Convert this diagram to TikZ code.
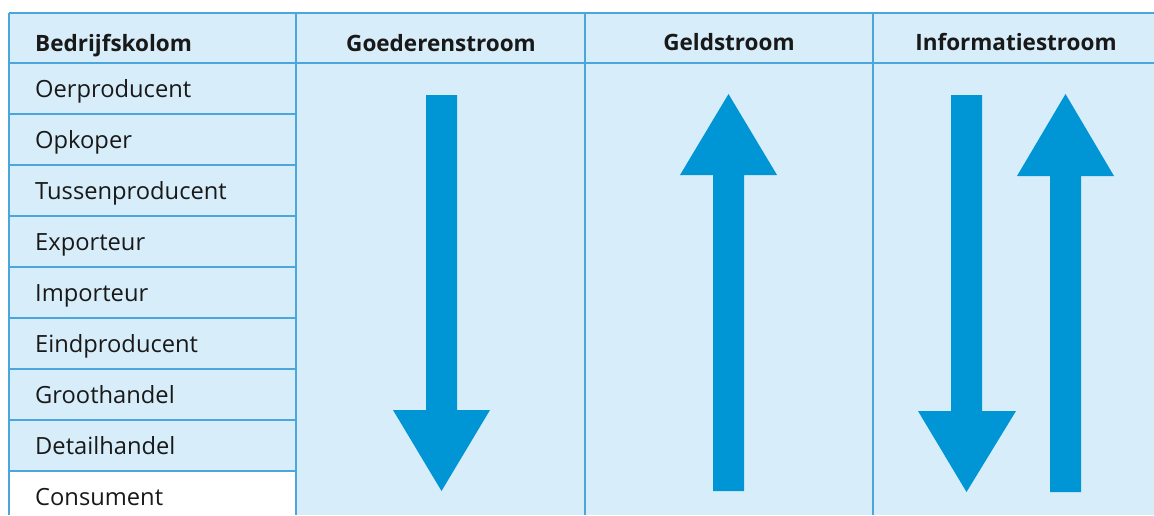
\documentclass[tikz,border=0pt]{standalone}
\usepackage{fontspec}
\setmainfont{Open Sans}
\definecolor{bgblue}{HTML}{D7EDF9}
\definecolor{lineblue}{HTML}{4AA6DC}
\definecolor{arrowblue}{HTML}{0096D6}
\begin{document}
\begin{tikzpicture}[x=1pt,y=-1pt,
  rowtext/.style={anchor=base west, inner sep=0pt, font=\fontsize{23.7}{28}\selectfont, text=black!90},
  headtext/.style={anchor=base, inner sep=0pt, font=\fontsize{22.5}{27}\selectfont\bfseries, text=black!90},
  gridline/.style={draw=lineblue, line width=1.8pt},
  bigarrow/.style={fill=arrowblue, draw=none}]
\useasboundingbox (0,0) rectangle (1154,515);
\fill[white] (0,0) rectangle (1154,515);
% background
\fill[bgblue] (9,13) rectangle (1154,515);
\fill[white] (9,471) rectangle (296,515);
% horizontal lines
\draw[gridline] (9,13) -- (1154,13);
\draw[gridline] (9,63) -- (1154,63);
\foreach \y in {114,165,216,267,318,369,420,471}
  \draw[gridline] (9,\y) -- (296,\y);
% vertical lines
\draw[gridline] (9,13) -- (9,515);
\foreach \x in {296,585,873}
  \draw[gridline] (\x,13) -- (\x,515);
% headers
\node[headtext, anchor=base west] (h0) at (35,51) {Bedrijfskolom};
\node[headtext] (h1) at (441,51) {Goederenstroom};
\node[headtext] (h2) at (729,50) {Geldstroom};
\node[headtext] (h3) at (1016,50) {Informatiestroom};
% rows
\node[rowtext] (r1) at (35,97) {Oerproducent};
\node[rowtext] (r2) at (35,148) {Opkoper};
\node[rowtext] (r3) at (35,199) {Tussenproducent};
\node[rowtext] (r4) at (35,250) {Exporteur};
\node[rowtext] (r5) at (35,301) {Importeur};
\node[rowtext] (r6) at (35,352) {Eindproducent};
\node[rowtext] (r7) at (35,403) {Groothandel};
\node[rowtext] (r8) at (35,454) {Detailhandel};
\node[rowtext] (r9) at (35,505) {Consument};
% Goederenstroom: down arrow
\fill[bigarrow] (426,95) -- (457,95) -- (457,410) -- (490,410) -- (441.5,491) -- (393,410) -- (426,410) -- cycle;
% Geldstroom: up arrow
\fill[bigarrow] (713,491) -- (744,491) -- (744,175) -- (777,175) -- (728.5,94) -- (680,175) -- (713,175) -- cycle;
% Informatiestroom: down arrow
\fill[bigarrow] (951,95) -- (982,95) -- (982,411) -- (1016,411) -- (966.5,492) -- (918,411) -- (951,411) -- cycle;
% Informatiestroom: up arrow
\fill[bigarrow] (1050,492) -- (1081,492) -- (1081,176) -- (1114,176) -- (1065.5,94) -- (1017,176) -- (1050,176) -- cycle;
\end{tikzpicture}
\end{document}
